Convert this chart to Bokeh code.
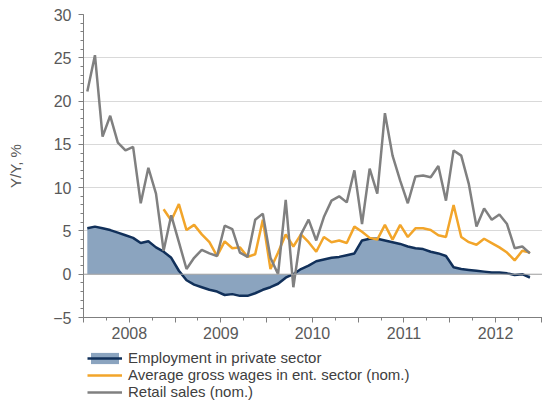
from bokeh.plotting import figure
from bokeh.layouts import column
from bokeh.models import Range1d, FixedTicker, Legend, LegendItem, Span, ColumnDataSource
from bokeh.embed import file_html
from bokeh.resources import INLINE

# --- data (monthly, index 0 = first month shown) ---
year_labels = ["2008", "2009", "2010", "2011", "2012"]

employment = [5.3, 5.5, 5.3, 5.1, 4.8, 4.5, 4.2, 3.6, 3.8, 3.1,
              2.6, 1.9, 0.4, -0.7, -1.2, -1.5, -1.8, -2.0, -2.4, -2.3,
              -2.5, -2.5, -2.2, -1.8, -1.5, -1.1, -0.4, 0.0, 0.6, 1.0,
              1.5, 1.7, 1.9, 2.0, 2.2, 2.4, 3.9, 4.1, 4.1, 3.9,
              3.7, 3.5, 3.2, 3.0, 2.9, 2.6, 2.4, 2.1, 0.8, 0.6,
              0.5, 0.4, 0.3, 0.2, 0.2, 0.1, -0.1, 0.0, -0.4]

wages_start = 10
wages = [7.5, 6.2, 8.1, 5.1, 5.7, 4.6, 3.7, 2.1, 3.8, 3.0,
         3.1, 2.0, 2.3, 6.3, 0.6, 2.5, 4.6, 3.2, 4.6, 3.7,
         2.6, 4.3, 3.7, 3.9, 3.6, 5.5, 4.9, 4.2, 4.0, 5.7,
         4.0, 5.7, 4.3, 5.3, 5.3, 5.1, 4.5, 4.3, 8.0, 4.3,
         3.7, 3.4, 4.1, 3.6, 3.1, 2.5, 1.6, 2.7, 2.5]

retail = [21.1, 25.3, 15.9, 18.3, 15.2, 14.3, 14.7, 8.2, 12.3, 9.3,
          2.7, 6.8, 3.7, 0.6, 1.9, 2.8, 2.4, 2.1, 5.6, 5.2,
          2.5, 2.0, 6.3, 7.0, 1.9, 0.0, 8.6, -1.5, 4.6, 6.3,
          3.9, 6.6, 8.5, 9.0, 8.3, 12.0, 5.8, 12.2, 9.3, 18.6,
          13.7, 10.8, 8.2, 11.3, 11.4, 11.2, 12.5, 8.5, 14.3, 13.7,
          10.4, 5.5, 7.6, 6.3, 6.9, 5.8, 3.0, 3.2, 2.4]

series_labels = ["Employment in private sector",
                 "Average gross wages in ent. sector (nom.)",
                 "Retail sales (nom.)"]

x_all = [i + 0.5 for i in range(len(employment))]
x_wages = [i + 0.5 for i in range(wages_start, wages_start + len(wages))]

src_main = ColumnDataSource(dict(x=x_all, emp=employment, retail=retail, zero=[0.0] * len(x_all)))
src_w = ColumnDataSource(dict(x=x_wages, w=wages))

FONT = "Liberation Sans"
TXT = "#595959"
C_FILL = "#8ba4bf"
C_EMP = "#11305a"
C_WAGE = "#f2a52a"
C_RET = "#808080"

p = figure(frame_width=459, frame_height=303, output_backend="svg", toolbar_location=None,
           x_range=Range1d(0, 60.15), y_range=Range1d(-5, 30),
           min_border_left=83, min_border_right=0, min_border_top=14, min_border_bottom=30)
p.outline_line_color = None
p.background_fill_color = "white"
p.border_fill_color = "white"

# grid
p.xgrid.grid_line_color = None
p.ygrid.grid_line_color = "#d9d9d9"
p.ygrid.grid_line_width = 1
p.ygrid.ticker = FixedTicker(ticks=[-5, 0, 5, 10, 15, 20, 25, 30])

p.add_layout(Span(location=0, dimension="width", line_color="#a6a6a6", line_width=1))

# series
area = p.varea(x="x", y1="zero", y2="emp", source=src_main, fill_color=C_FILL, fill_alpha=1.0)
emp_line = p.line(x="x", y="emp", source=src_main, line_color=C_EMP, line_width=2.5)
w_line = p.line(x="x", y="w", source=src_w, line_color=C_WAGE, line_width=2.5)
r_line = p.line(x="x", y="retail", source=src_main, line_color=C_RET, line_width=2.5)

# x axis
xt = [0, 6, 12, 18, 24, 30, 36, 42, 48, 54, 60]
p.xaxis.ticker = FixedTicker(ticks=xt, minor_ticks=list(range(0, 61, 3)))
overrides = {}
for k, t in enumerate(xt):
    overrides[t] = year_labels[k // 2] if t % 12 == 6 else ""
p.xaxis.major_label_overrides = overrides
p.xaxis.major_tick_out = 5
p.xaxis.major_tick_in = 0
p.xaxis.minor_tick_out = 3
p.xaxis.minor_tick_in = 0
p.xaxis.axis_line_color = "#7f7f7f"
p.xaxis.major_tick_line_color = "#7f7f7f"
p.xaxis.minor_tick_line_color = "#7f7f7f"
p.xaxis.major_label_text_font = FONT
p.xaxis.major_label_text_font_size = "16px"
p.xaxis.major_label_text_color = TXT
p.xaxis.major_label_standoff = 4

# y axis
p.yaxis.ticker = FixedTicker(ticks=[-5, 0, 5, 10, 15, 20, 25, 30], minor_ticks=list(range(-5, 31)))
p.yaxis.major_tick_out = 5
p.yaxis.major_tick_in = 0
p.yaxis.minor_tick_out = 3
p.yaxis.minor_tick_in = 0
p.yaxis.axis_line_color = "#7f7f7f"
p.yaxis.major_tick_line_color = "#7f7f7f"
p.yaxis.minor_tick_line_color = "#7f7f7f"
p.yaxis.major_label_text_font = FONT
p.yaxis.major_label_text_font_size = "16px"
p.yaxis.major_label_text_color = TXT
p.yaxis.major_label_standoff = 7
p.yaxis.axis_label = "Y/Y, %"
p.yaxis.axis_label_text_font = FONT
p.yaxis.axis_label_text_font_size = "15px"
p.yaxis.axis_label_text_font_style = "normal"
p.yaxis.axis_label_text_color = TXT
p.yaxis.axis_label_standoff = 26

# legend strip (separate figure below, with legend proxies that draw nothing)
lg = figure(width=542, height=53, output_backend="svg", toolbar_location=None,
            x_axis_location=None, y_axis_location=None,
            x_range=Range1d(0, 1), y_range=Range1d(0, 1),
            min_border_left=0, min_border_right=0, min_border_top=0, min_border_bottom=0)
lg.outline_line_color = None
lg.xgrid.grid_line_color = None
lg.ygrid.grid_line_color = None
lg.border_fill_color = "white"
nan = float("nan")
proxy = ColumnDataSource(dict(x=[nan], y=[nan], y0=[nan]))
pa = lg.varea(x="x", y1="y0", y2="y", source=proxy, fill_color=C_FILL, fill_alpha=1.0)
pe = lg.line(x="x", y="y", source=proxy, line_color=C_EMP, line_width=2.5)
pw = lg.line(x="x", y="y", source=proxy, line_color=C_WAGE, line_width=2.5)
pr = lg.line(x="x", y="y", source=proxy, line_color=C_RET, line_width=2.5)

legend = Legend(items=[
    LegendItem(label=series_labels[0], renderers=[pa, pe]),
    LegendItem(label=series_labels[1], renderers=[pw]),
    LegendItem(label=series_labels[2], renderers=[pr]),
], location=(4, 0), orientation="vertical")
legend.border_line_color = None
legend.background_fill_alpha = 0
legend.label_text_font = FONT
legend.label_text_font_size = "15px"
legend.label_text_color = "#404040"
legend.glyph_width = 35
legend.glyph_height = 14
legend.label_height = 16
legend.spacing = 0
legend.padding = 0
legend.margin = 0
legend.label_standoff = 6
lg.add_layout(legend, "center")

layout = column(p, lg, spacing=0)
open("out.html", "w").write(file_html(layout, INLINE))
